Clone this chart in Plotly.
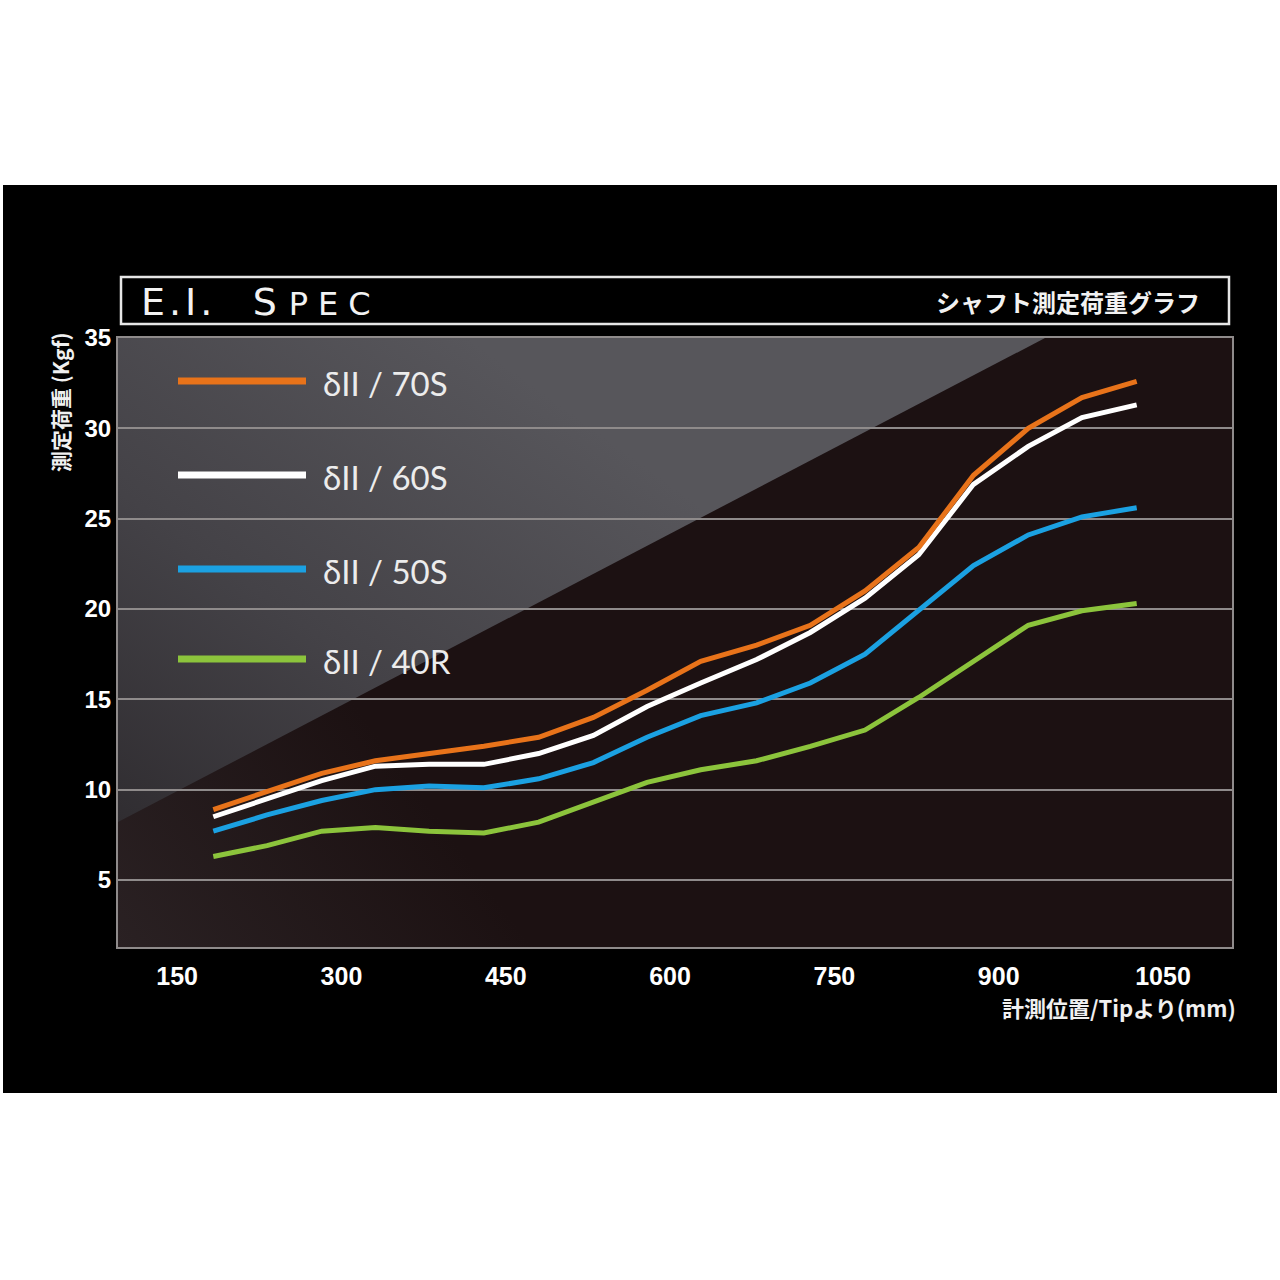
import base64
import plotly.graph_objects as go

# ---------------- data ----------------
positions_mm = [183, 232, 282, 331, 380, 430, 480, 530, 579, 628, 679, 728, 778, 827, 877, 927, 976, 1026]

series_names = ["δII / 70S", "δII / 60S", "δII / 50S", "δII / 40R"]
load_70s = [8.9, 9.9, 10.9, 11.6, 12.0, 12.4, 12.9, 14.0, 15.5, 17.1, 18.0, 19.1, 21.0, 23.4, 27.4, 30.0, 31.7, 32.6]
load_60s = [8.5, 9.5, 10.5, 11.3, 11.4, 11.4, 12.0, 13.0, 14.6, 15.9, 17.2, 18.7, 20.6, 23.0, 26.9, 29.0, 30.6, 31.3]
load_50s = [7.7, 8.6, 9.4, 10.0, 10.2, 10.1, 10.6, 11.5, 12.9, 14.1, 14.8, 15.9, 17.5, 19.9, 22.4, 24.1, 25.1, 25.6]
load_40r = [6.3, 6.9, 7.7, 7.9, 7.7, 7.6, 8.2, 9.3, 10.4, 11.1, 11.6, 12.4, 13.3, 15.1, 17.1, 19.1, 19.9, 20.3]
series_values = [load_70s, load_60s, load_50s, load_40r]
series_colors = ["#e8731a", "#ffffff", "#1ba1e2", "#8cc43c"]

x_ticks = [150, 300, 450, 600, 750, 900, 1050]
y_ticks = [5, 10, 15, 20, 25, 30, 35]

title_main = ("<span style='letter-spacing:4px'>E.I.</span>&nbsp;&nbsp;&nbsp;"
              "<span style='letter-spacing:12px'>S</span>"
              "<span style='font-size:32px;letter-spacing:10px'>PEC</span>")
title_jp = "シャフト測定荷重グラフ"
y_title = "測定荷重 (Kgf)"
x_title = "計測位置/Tipより(mm)"

# ---------------- geometry ----------------
W, H = 1280, 1280
PL, PR, PT, PB = 118, 1232, 338, 947  # plot area in pixels


def px(x):
    return (x - PL) / (PR - PL)


def py(y):
    return (PB - y) / (PB - PT)


fig = go.Figure()

# draw lines bottom to top
for name, vals, col in reversed(list(zip(series_names, series_values, series_colors))):
    fig.add_trace(go.Scatter(
        x=positions_mm, y=vals, name=name, mode="lines",
        line=dict(color=col, width=5), showlegend=False,
        hovertemplate="%{x} mm: %{y} kgf<extra>" + name + "</extra>",
    ))

# background gradient for plot area (SVG image)
pw, ph = PR - PL, PB - PT
svg = f"""<svg xmlns='http://www.w3.org/2000/svg' width='{pw}' height='{ph}' viewBox='0 0 {pw} {ph}' preserveAspectRatio='none'>
<defs>
<linearGradient id='g1' gradientUnits='userSpaceOnUse' x1='350' y1='0' x2='0' y2='484'>
<stop offset='0' stop-color='#57565b'/>
<stop offset='0.55' stop-color='#444247'/>
<stop offset='1' stop-color='#302d31'/>
</linearGradient>
<linearGradient id='g2' gradientUnits='userSpaceOnUse' x1='0' y1='{ph}' x2='450' y2='280'>
<stop offset='0' stop-color='#2a2123'/>
<stop offset='0.6' stop-color='#1c1112'/>
<stop offset='1' stop-color='#1c1112'/>
</linearGradient>
</defs>
<rect x='0' y='0' width='{pw}' height='{ph}' fill='url(#g2)'/>
<polygon points='0,0 927,0 0,484' fill='url(#g1)'/>
</svg>"""
svg_uri = "data:image/svg+xml;base64," + base64.b64encode(svg.encode("utf-8")).decode("ascii")

shapes = []
# white page outside the black panel
for (x0, y0, x1, y1) in [(0, 0, W, 185), (0, 1093, W, H), (0, 0, 3, H), (1277, 0, W, H)]:
    shapes.append(dict(type="rect", xref="paper", yref="paper", x0=px(x0), x1=px(x1), y0=py(y0), y1=py(y1),
                       fillcolor="white", line=dict(width=0), layer="below"))
# title box
shapes.append(dict(type="rect", xref="paper", yref="paper", x0=px(121), x1=px(1229), y0=py(277), y1=py(324),
                   fillcolor="black", line=dict(color="#e6e6e6", width=2.5), layer="above"))
# legend swatches
legend_y = [381, 475, 569, 659]
for col, ly in zip(series_colors, legend_y):
    shapes.append(dict(type="line", xref="paper", yref="paper", x0=px(178), x1=px(306), y0=py(ly), y1=py(ly),
                       line=dict(color=col, width=7), layer="above"))

annotations = [
    dict(text=title_main, x=px(139), y=py(302), xref="paper", yref="paper", xanchor="left", yanchor="middle",
         showarrow=False, font=dict(family="DejaVu Sans", size=38, color="#f2f2f2")),
    dict(text=title_jp, x=px(1202), y=py(301), xref="paper", yref="paper", xanchor="right", yanchor="middle",
         showarrow=False, font=dict(family="Noto Sans CJK JP", size=24, color="#f2f2f2", weight="bold")),
    dict(text=y_title, x=px(60), y=py(403), xref="paper", yref="paper", xanchor="center", yanchor="middle",
         textangle=-90, showarrow=False, font=dict(family="Noto Sans CJK JP", size=21, color="#f0f0f0", weight="bold")),
    dict(text=x_title, x=px(1238), y=py(1007), xref="paper", yref="paper", xanchor="right", yanchor="middle",
         showarrow=False, font=dict(family="Noto Sans CJK JP", size=22, color="#f0f0f0", weight="bold")),
]
for name, ly in zip(series_names, legend_y):
    annotations.append(dict(text=name, x=px(321), y=py(ly + 2), xref="paper", yref="paper",
                            xanchor="left", yanchor="middle", showarrow=False,
                            font=dict(family="Lato", size=33, color="#ececec")))

fig.update_layout(
    width=W, height=H,
    margin=dict(l=PL, r=W - PR, t=PT, b=H - PB, pad=0),
    paper_bgcolor="black",
    plot_bgcolor="rgba(0,0,0,0)",
    showlegend=False,
    shapes=shapes,
    annotations=annotations,
    images=[dict(source=svg_uri, xref="paper", yref="paper", x=0, y=1, sizex=1, sizey=1,
                 xanchor="left", yanchor="top", sizing="stretch", layer="below")],
    xaxis=dict(range=[96, 1113], tickvals=x_ticks, ticktext=[str(v) for v in x_ticks],
               showgrid=False, zeroline=False, showline=True, linecolor="#8f8b8b", linewidth=2, mirror=True,
               ticks="", ticklen=0, ticklabelstandoff=6,
               tickfont=dict(family="Liberation Sans Narrow, Liberation Sans", size=25, color="white", weight="bold")),
    yaxis=dict(range=[1.29, 35], tickvals=y_ticks, ticktext=[str(v) for v in y_ticks],
               showgrid=True, gridcolor="#8f8b8b", gridwidth=2, zeroline=False,
               showline=True, linecolor="#8f8b8b", linewidth=2, mirror=True,
               ticks="", ticklen=0, ticklabelstandoff=0,
               tickfont=dict(family="Liberation Sans", size=24, color="white", weight="bold")),
)

fig.write_html("out.html", config={"displayModeBar": False},
               post_script="document.body.style.margin='0';")
